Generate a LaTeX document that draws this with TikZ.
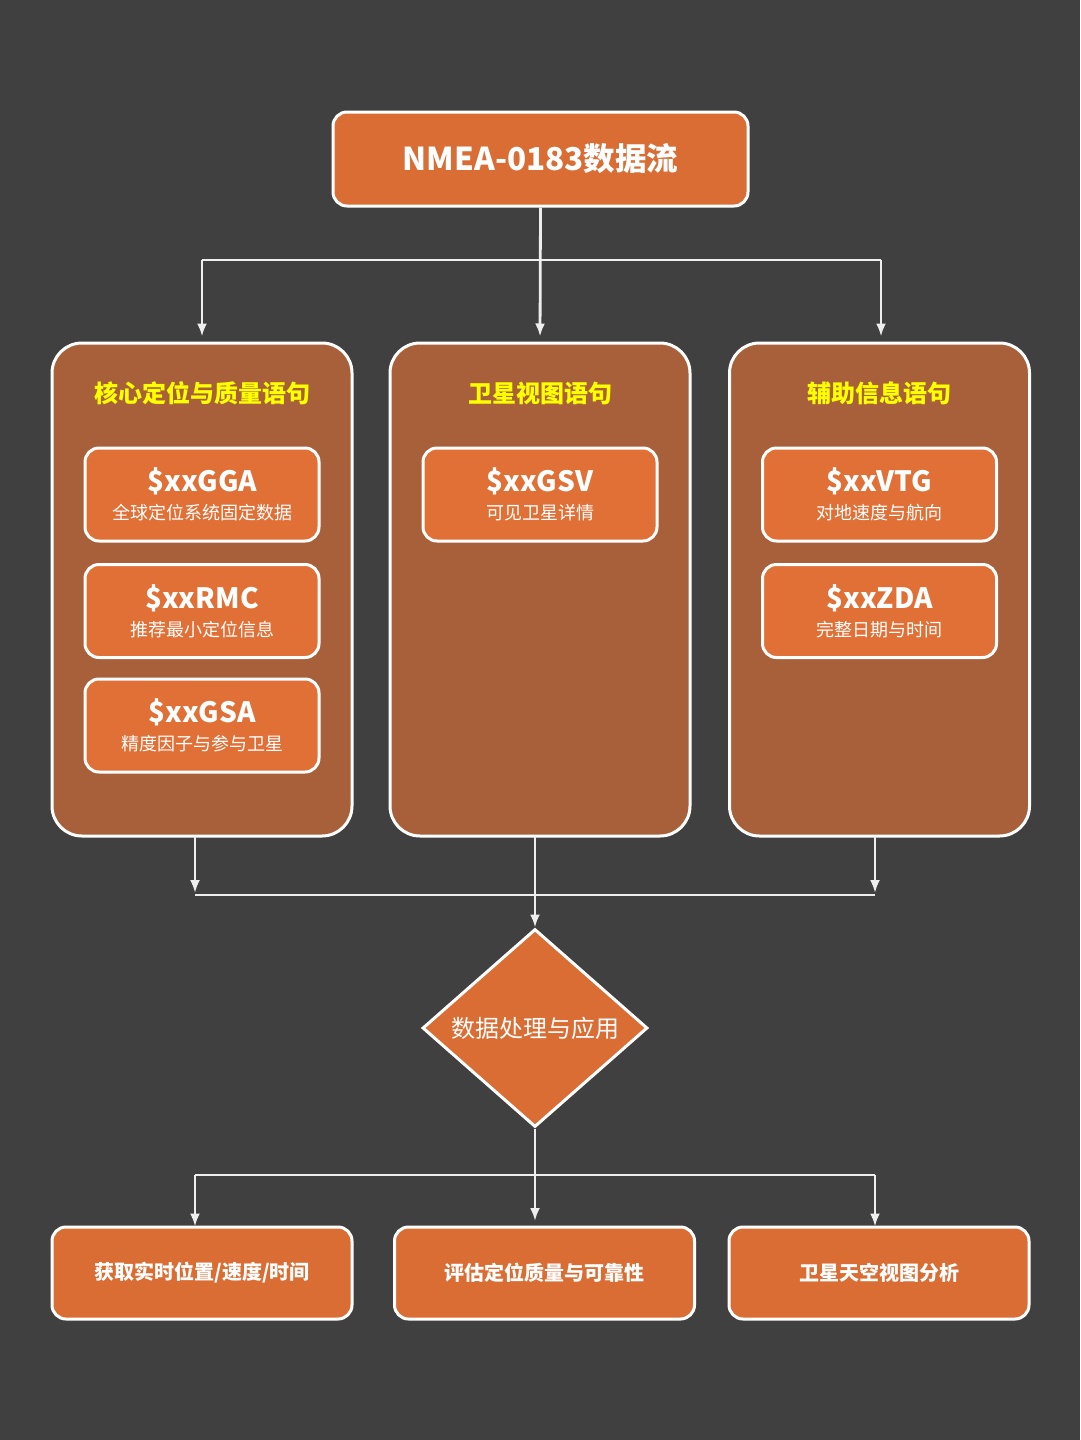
\documentclass[tikz,border=0pt]{standalone}
\usepackage{fontspec}
\setmainfont{Noto Sans CJK SC}
\usetikzlibrary{shapes.geometric,arrows.meta}
\definecolor{bgc}{HTML}{404040}
\definecolor{topc}{HTML}{D96D34}
\definecolor{grpc}{HTML}{A8603A}
\definecolor{innc}{HTML}{E07036}
\definecolor{ttl}{HTML}{FFFF00}
\definecolor{lnc}{HTML}{EEEEEE}
\tikzset{
  mainbox/.style={draw=white, line width=3pt, fill=topc, rounded corners=14pt, inner sep=0pt, text=white, align=center},
  grpbox/.style={draw=white, line width=3pt, fill=grpc, rounded corners=30pt, inner sep=0pt, minimum width=300pt, minimum height=493pt},
  innbox/.style={draw=white, line width=3pt, fill=innc, rounded corners=14pt, inner sep=0pt, minimum width=234pt, minimum height=93pt, text=white, align=center},
  grptitle/.style={text=ttl, font=\fontsize{24}{27}\selectfont\bfseries},
  outbox/.style={mainbox, minimum width=300pt, minimum height=92pt, font=\fontsize{20}{23}\selectfont\bfseries},
  conn/.style={draw=lnc, line width=2.8pt},
  arr/.style={conn, -{Latex[length=13pt,width=10pt]}},
  decis/.style={diamond, draw=white, line width=3pt, fill=topc, inner sep=0pt, minimum width=225pt, minimum height=198pt, aspect=1.14, text=white, font=\fontsize{24}{27}\selectfont}
}
\newcommand{\msg}[2]{{\fontsize{28}{30}\selectfont\bfseries #1}\\[8pt]{\fontsize{18}{20}\selectfont #2}}
\begin{document}
\begin{tikzpicture}[x=1pt,y=-1pt]
\fill[bgc] (0,0) rectangle (1080,1440);
\useasboundingbox (0,0) rectangle (1080,1440);

\node[mainbox, minimum width=415pt, minimum height=94pt, font=\fontsize{31.5}{34}\selectfont\bfseries] (top) at (540.5,159) {NMEA-0183数据流};

\node[grpbox] (gl) at (202,589.5) {};
\node[grpbox] (gm) at (540,589.5) {};
\node[grpbox] (gr) at (879.5,589.5) {};

\node[grptitle] (tl) at (202,393) {核心定位与质量语句};
\node[grptitle] (tm) at (540,393) {卫星视图语句};
\node[grptitle] (tr) at (879.5,393) {辅助信息语句};

\node[innbox] (gga) at (202,494.5) {\msg{\$xxGGA}{全球定位系统固定数据}};
\node[innbox] (rmc) at (202,611) {\msg{\$xxRMC}{推荐最小定位信息}};
\node[innbox] (gsa) at (202,725.5) {\msg{\$xxGSA}{精度因子与参与卫星}};
\node[innbox] (gsv) at (540,494.5) {\msg{\$xxGSV}{可见卫星详情}};
\node[innbox] (vtg) at (879.5,494.5) {\msg{\$xxVTG}{对地速度与航向}};
\node[innbox] (zda) at (879.5,611) {\msg{\$xxZDA}{完整日期与时间}};

\node[decis] (dp) at (535,1028) {数据处理与应用};

\node[outbox] (o1) at (202,1273) {获取实时位置/速度/时间};
\node[outbox] (o2) at (544.5,1273) {评估定位质量与可靠性};
\node[outbox] (o3) at (879,1273) {卫星天空视图分析};

% top fan-out
\coordinate (j1) at (540,260);
\coordinate (j1l) at (202,260);
\coordinate (j1r) at (881,260);
\draw[arr, shorten >=5pt] (top.south) -- (gm.north);
\draw[conn] (j1l) -- (j1r);
\draw[arr, shorten >=5pt] (j1l) -- (gl.north);
\draw[arr, shorten >=5pt] (j1r) -- (j1r |- gr.north);

% merge to diamond
\coordinate (bl) at (195,836);
\coordinate (bm) at (535,836);
\coordinate (br) at (875,836);
\coordinate (hl) at (195,895);
\coordinate (hr) at (875,895);
\draw[arr, shorten >=2pt] (bl) -- (hl);
\draw[arr, shorten >=2pt] (br) -- (hr);
\draw[conn] (hl) -- (hr);
\draw[arr] (bm) -- (dp.north);

% fan-out to outputs
\coordinate (kl) at (195,1175);
\coordinate (kr) at (875,1175);
\coordinate (km) at (535,1221);
\draw[conn] (kl) -- (kr);
\draw[arr] (dp.south) -- (km);
\draw[arr, shorten >=-1pt] (kl) -- (kl |- o1.north);
\draw[arr, shorten >=-1pt] (kr) -- (kr |- o3.north);
\end{tikzpicture}
\end{document}
